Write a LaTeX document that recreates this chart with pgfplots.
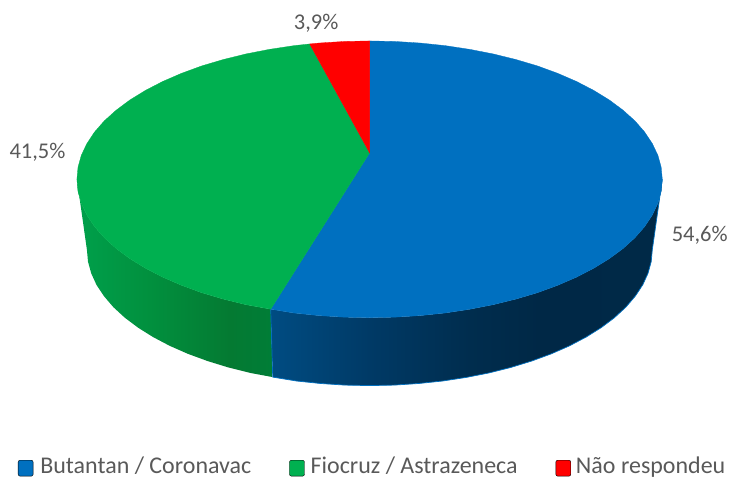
\documentclass[border=0pt]{standalone}
\usepackage{pgfplots}
\pgfplotsset{compat=1.18}
\usepackage{fontspec}
\setmainfont{Carlito}
\definecolor{tblue}{RGB}{0,112,192}
\definecolor{tgreen}{RGB}{0,176,80}
\definecolor{tred}{RGB}{255,0,0}
\definecolor{txt}{RGB}{89,89,89}
\definecolor{ga}{RGB}{0,160,75}
\definecolor{gb}{RGB}{1,144,62}
\definecolor{gc}{RGB}{4,122,50}
\definecolor{gd}{RGB}{0,125,55}
\definecolor{ba}{RGB}{0,76,130}
\definecolor{bb}{RGB}{0,58,102}
\definecolor{bc}{RGB}{0,45,78}
\definecolor{bd}{RGB}{0,40,70}
\definecolor{be}{RGB}{0,41,71}
\pgfdeclarehorizontalshading{greenside}{100bp}{
  color(0bp)=(ga);
  color(25bp)=(ga);
  color(43.6bp)=(gb);
  color(64bp)=(gc);
  color(75bp)=(gd);
  color(100bp)=(gd)}
\pgfdeclarehorizontalshading{blueside}{100bp}{
  color(0bp)=(ba);
  color(25bp)=(ba);
  color(37.6bp)=(bb);
  color(50.4bp)=(bc);
  color(59.3bp)=(bd);
  color(75bp)=(be);
  color(100bp)=(be)}
\begin{document}
\begin{tikzpicture}
\begin{axis}[
  scale only axis, width=731pt, height=480pt,
  xmin=0, xmax=731, ymin=0, ymax=480, y dir=reverse,
  hide axis, clip=false,
  legend columns=3,
  legend style={at={(axis cs:18,467)}, anchor=west, draw=none, fill=none, inner sep=0pt, outer sep=0pt,
    font=\fontsize{24}{26}\selectfont\color{txt},
    /tikz/every even column/.append style={column sep=38pt},
    nodes={inner xsep=0pt, inner ysep=0pt}},
  legend image code/.code={\fill[#1, rounded corners=2pt] (0pt,-10.5pt) rectangle (15pt,5.5pt);},
]
\path (axis cs:0,0) rectangle (axis cs:731,480);
% side, green
\addplot[forget plot, draw=none, shade, shading=greenside] coordinates {(77,179.5)(78.1,191.6)(81.4,203.5)(87,215.3)(94.7,226.9)(104.4,238)(116.3,248.8)(130,258.9)(145.6,268.5)(162.8,277.4)(181.7,285.6)(201.9,293)(223.5,299.4)(246.2,305)(271,309.5)(273,377.5)(250.4,373.3)(228.5,367.8)(207.7,361.4)(188.1,354.2)(169.9,346.2)(153.2,337.4)(138.2,328)(124.9,318)(113.5,307.5)(104.1,296.5)(96.6,285.2)(91.3,273.6)(88.1,261.9)(87,250)} -- cycle;
% side, blue
\addplot[forget plot, draw=none, shade, shading=blueside] coordinates {(271,309.5)(294.2,313.3)(319.1,315.9)(344.5,317.5)(370,318)(395.5,317.5)(420.9,315.9)(445.8,313.3)(470.2,309.6)(493.8,305)(516.5,299.4)(538.1,293)(558.3,285.6)(577.2,277.4)(594.4,268.5)(610,258.9)(623.7,248.8)(635.6,238)(645.3,226.9)(653,215.3)(658.6,203.5)(661.9,191.6)(663,179.5)(653,250)(651.9,261.9)(648.7,273.6)(643.4,285.2)(635.9,296.5)(626.5,307.5)(615.1,318)(601.8,328)(586.8,337.4)(570.1,346.2)(551.9,354.2)(532.3,361.4)(511.5,367.8)(489.6,373.3)(466.8,377.8)(443.2,381.4)(419.1,383.9)(394.7,385.5)(370,386)(345.3,385.5)(320.9,383.9)(296.8,381.4)(273,377.5)} -- cycle;
% thin lighter rim on the blue side face
\addplot[forget plot, draw=tblue, line width=.7pt] coordinates {(271,309.5)(273,377.5)(296.8,381.4)(320.9,383.9)(345.3,385.5)(370,386)(394.7,385.5)(419.1,383.9)(443.2,381.4)(466.8,377.8)(489.6,373.3)(511.5,367.8)(532.3,361.4)(551.9,354.2)(570.1,346.2)(586.8,337.4)(601.8,328)(615.1,318)(626.5,307.5)(635.9,296.5)(643.4,285.2)(648.7,273.6)(651.9,261.9)(653,250)(663,179.5)};
% blue slice (top)
\addplot[forget plot, fill=tblue, draw=tblue, line width=.3pt] coordinates {(370,153)(370,41)(395.5,41.5)(420.9,43.1)(445.8,45.7)(470.2,49.4)(493.8,54)(516.5,59.6)(538.1,66)(558.3,73.4)(577.2,81.6)(594.4,90.5)(610,100.1)(623.7,110.3)(635.6,121)(645.3,132.1)(653,143.7)(658.6,155.5)(661.9,167.4)(663,179.5)(661.9,191.6)(658.6,203.5)(653,215.3)(645.3,226.9)(635.6,238)(623.7,248.8)(610,258.9)(594.4,268.5)(577.2,277.4)(558.3,285.6)(538.1,293)(516.5,299.4)(493.8,305)(470.2,309.6)(445.8,313.3)(420.9,315.9)(395.5,317.5)(370,318)(344.5,317.5)(319.1,315.9)(294.2,313.3)(271,309.5)} -- cycle;
% green slice (top)
\addplot[forget plot, fill=tgreen, draw=tgreen, line width=.3pt] coordinates {(370,153)(271,309.5)(246.2,305)(223.5,299.4)(201.9,293)(181.7,285.6)(162.8,277.4)(145.6,268.5)(130,258.9)(116.3,248.8)(104.4,238)(94.7,226.9)(87,215.3)(81.4,203.5)(78.1,191.6)(77,179.5)(78.1,167.4)(81.4,155.5)(87,143.7)(94.7,132.1)(104.4,121)(116.3,110.3)(130,100.1)(145.6,90.5)(162.8,81.6)(181.7,73.4)(201.9,66)(223.5,59.6)(246.2,54)(269.8,49.4)(294.2,45.7)(310,44)} -- cycle;
% red slice (top)
\addplot[forget plot, fill=tred, draw=tred, line width=.3pt] coordinates {(370,153)(310,44)(319.1,43.1)(344.5,41.5)(370,41)} -- cycle;
\addlegendimage{fill=tblue}\addlegendentry{\hspace{7pt}Butantan / Coronavac}
\addlegendimage{fill=tgreen}\addlegendentry{\hspace{6pt}Fiocruz / Astrazeneca}
\addlegendimage{fill=tred}\addlegendentry{\hspace{5pt}Não respondeu}
\node[text=txt, font=\fontsize{22.5}{24}\selectfont, anchor=center] at (axis cs:700.5,236) {54,6\%};
\node[text=txt, font=\fontsize{22.5}{24}\selectfont, anchor=center] at (axis cs:37.5,152) {41,5\%};
\node[text=txt, font=\fontsize{22.5}{24}\selectfont, anchor=center] at (axis cs:316.5,23) {3,9\%};
\end{axis}
\end{tikzpicture}
\end{document}
